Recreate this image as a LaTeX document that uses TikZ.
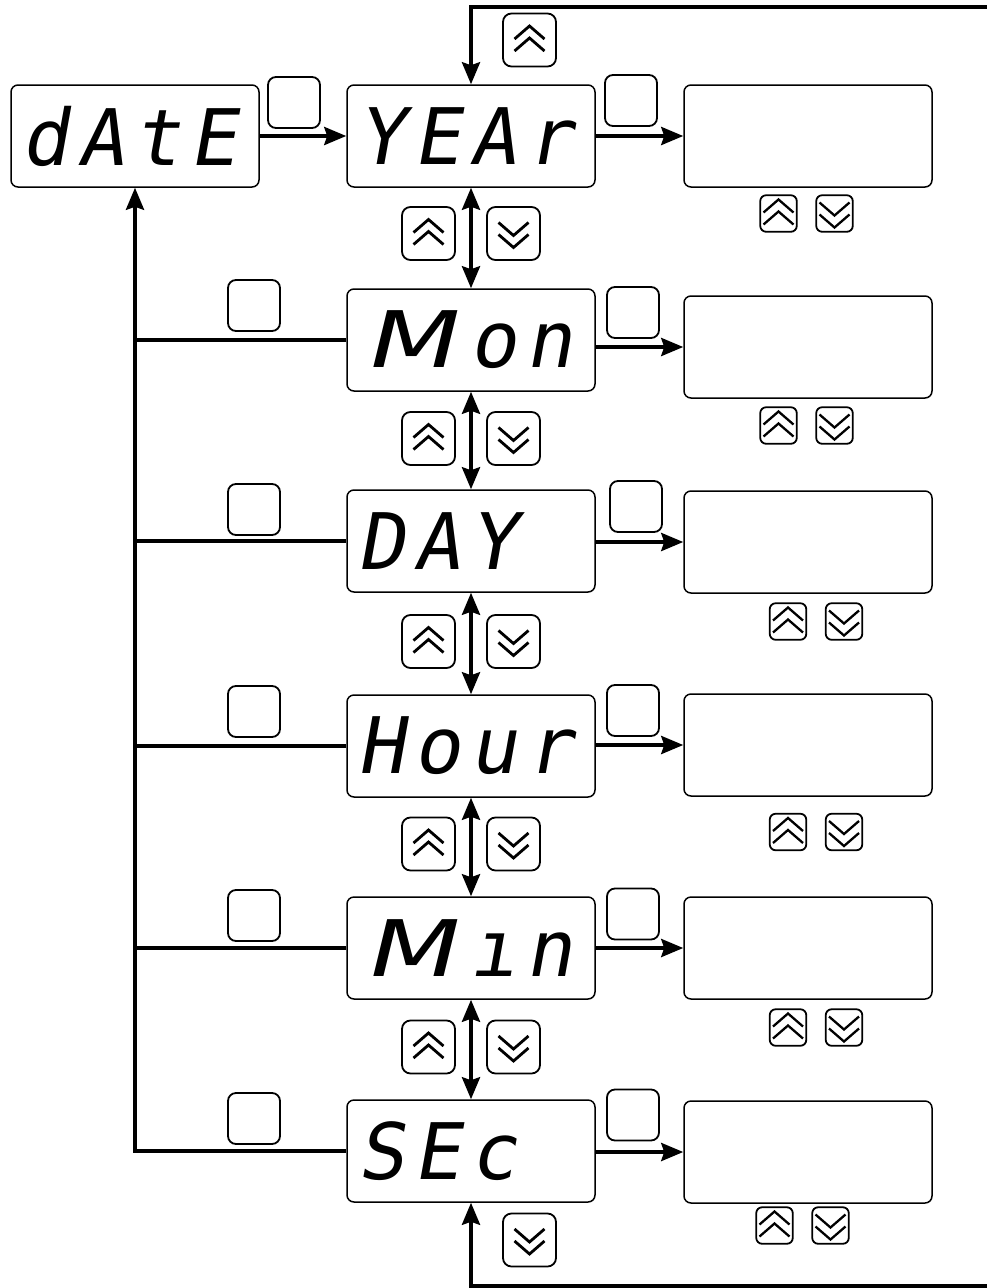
\documentclass[tikz,border=0pt]{standalone}
\usepackage{graphicx}
\usepackage{fontspec}
\newfontfamily\segfont{DejaVu Sans Mono}[FakeSlant=0.18]
\newfontfamily\segwide{DejaVu Sans}[FakeSlant=0.18]
\usetikzlibrary{arrows.meta}
\newcommand\sg[1]{\makebox[56pt][c]{#1}}
\newcommand\sgM{\makebox[112pt][c]{\segwide\scalebox{1.35}[1]{M}}}
\newcommand\disptext[1]{\makebox[236pt][l]{\segfont\fontsize{78}{78}\selectfont #1}}
\tikzset{
  disp/.style={draw, line width=1.5pt, rounded corners=7pt, minimum width=248pt,
    minimum height=102pt, inner sep=0pt, fill=white},
  btn/.style={draw, line width=1.8pt, inner sep=0pt, fill=white},
  blank/.style={btn, rounded corners=8pt, minimum width=52pt, minimum height=51pt},
  conn/.style={line width=3.8pt, -{Stealth[length=22pt,width=18pt,inset=3pt]}},
  both/.style={line width=3.8pt, {Stealth[length=22pt,width=18pt,inset=3pt]}-{Stealth[length=22pt,width=18pt,inset=3pt]}},
  plain/.style={line width=3.8pt},
  upbtn/.style 2 args={btn, rounded corners={#1*0.16pt}, minimum size={#1*1pt},
    path picture={\begin{scope}[sharp corners, shift={(path picture bounding box.center)}, scale=#1/53]
      \draw[sharp corners, line width=#2] (-15,-1) -- (0,-14) -- (15,-1) (-15,11) -- (0,-2) -- (15,11);
    \end{scope}}},
  downbtn/.style 2 args={btn, rounded corners={#1*0.16pt}, minimum size={#1*1pt},
    path picture={\begin{scope}[sharp corners, shift={(path picture bounding box.center)}, scale=#1/53]
      \draw[sharp corners, line width=#2] (-15,1) -- (0,14) -- (15,1) (-15,-11) -- (0,2) -- (15,-11);
    \end{scope}}},
}
\begin{document}
\begin{tikzpicture}[x=1pt,y=-1pt]
\useasboundingbox (0,0) rectangle (987,1288);

% displays
\node[disp] (date) at (135,136) {\disptext{\sg{d}\sg{A}\sg{t}\sg{E}}};
\node[disp] (year) at (471,136) {\disptext{\sg{Y}\sg{E}\sg{A}\sg{r}}};
\node[disp] (mon)  at (471,340) {\disptext{\sgM\sg{o}\sg{n}}};
\node[disp] (day)  at (471,541) {\disptext{\sg{D}\sg{A}\sg{Y}}};
\node[disp] (hour) at (471,746) {\disptext{\sg{H}\sg{o}\sg{u}\sg{r}}};
\node[disp] (min)  at (471,948) {\disptext{\sgM\sg{ı}\sg{n}}};
\node[disp] (sec)  at (471,1151) {\disptext{\sg{S}\sg{E}\sg{c}}};

% value boxes
\node[disp] (r1) at (808,136) {};
\node[disp] (r2) at (808,347) {};
\node[disp] (r3) at (808,542) {};
\node[disp] (r4) at (808,745) {};
\node[disp] (r5) at (808,948) {};
\node[disp] (r6) at (808,1152) {};

% blank buttons
\node[blank] (k0) at (294,102.5) {};
\node[blank] (k1) at (631,100.5) {};
\node[blank] (k2) at (633,312.5) {};
\node[blank] (k3) at (636,506.5) {};
\node[blank] (k4) at (633,710.5) {};
\node[blank] (k5) at (633,914) {};
\node[blank] (k6) at (633,1115) {};
\node[blank] (l2) at (254,305.5) {};
\node[blank] (l3) at (254,509.5) {};
\node[blank] (l4) at (254,711.5) {};
\node[blank] (l5) at (254,915.5) {};
\node[blank] (l6) at (254,1118.5) {};

% up/down buttons between rows
\node[upbtn={53}{2.8pt}] (tu) at (529.5,40) {};
\node[downbtn={53}{2.8pt}] (bd) at (529.5,1240) {};
\foreach \n/\y in {a/233.5, b/438.5, c/641.5, d/844, e/1047} {
  \node[upbtn={53}{2.8pt}] (u\n) at (428.5,\y) {};
  \node[downbtn={53}{2.8pt}] (d\n) at (513.5,\y) {};
}
% small buttons under value boxes
\foreach \n/\x/\y in {1/778.5/213.5, 2/778.5/425.5, 3/788/621.5, 4/788/832, 5/788/1027.5, 6/774.5/1225.5} {
  \node[upbtn={36.5}{2.3pt}] (su\n) at (\x,\y) {};
  \node[downbtn={36.5}{2.3pt}] (sd\n) at (\x+56,\y) {};
}

% connectors
\draw[conn] (date.east) -- (year.west);
\draw[conn] (year.east |- r1.west) -- (r1.west);
\draw[conn] (mon.east |- r2.west) -- (r2.west);
\draw[conn] (day.east |- r3.west) -- (r3.west);
\draw[conn] (hour.east |- r4.west) -- (r4.west);
\draw[conn] (min.east |- r5.west) -- (r5.west);
\draw[conn] (sec.east |- r6.west) -- (r6.west);

\draw[both] (year.south) -- (mon.north);
\draw[both] (mon.south) -- (day.north);
\draw[both] (day.south) -- (hour.north);
\draw[both] (hour.south) -- (min.north);
\draw[both] (min.south) -- (sec.north);

\draw[plain] (mon.west) -- (mon.west -| date.south);
\draw[plain] (day.west) -- (day.west -| date.south);
\draw[plain] (hour.west) -- (hour.west -| date.south);
\draw[plain] (min.west) -- (min.west -| date.south);
\draw[conn] (sec.west) -- (sec.west -| date.south) -- (date.south);

% top loop: filled band to the right edge, then arrow down into YEAr
\coordinate (topleft) at ([xshift=-1.9pt]year.north |- 0,5.1);
\coordinate (topright) at (987,8.9);
\fill (topleft) rectangle (topright);
\draw[conn] (year.north |- 0,5.1) -- (year.north);

\coordinate (botend) at (987,1286);
\draw[conn] (botend) -- (sec.south |- botend) -- (sec.south);
\end{tikzpicture}
\end{document}
